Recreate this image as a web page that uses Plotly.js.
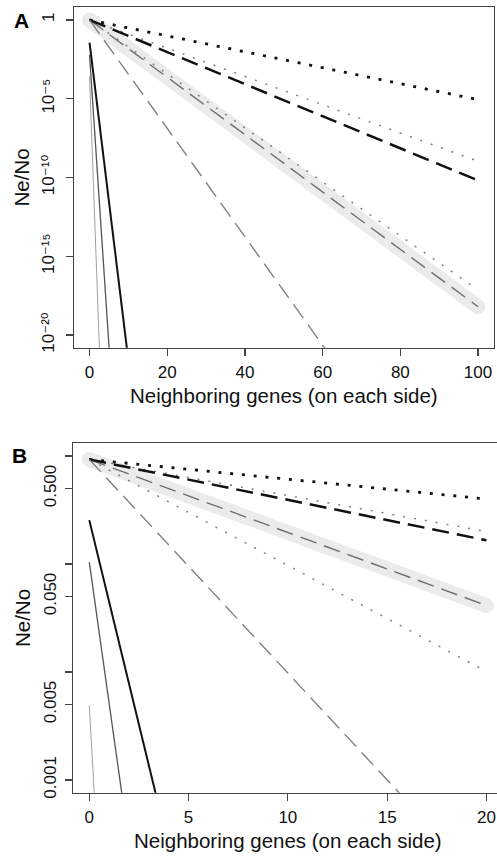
<!DOCTYPE html>
<html>
<head>
<meta charset="utf-8">
<script src="https://cdn.plot.ly/plotly-3.0.1.min.js"></script>
<style>
html,body{margin:0;padding:0;overflow:hidden;background:#fff;}
#chart{width:520px;height:857px;}
</style>
</head>
<body>
<div id="chart"></div>
<script>
// ---------- Panel A (0..100 neighboring genes) ----------
const A_x = [0, 100];
const A_blackDotted = [1, 8.7e-6];
const A_grayDotted = [1, 1.07e-9];
const A_blackDashed = [1, 6.5e-11];
const A_grayDotted2 = [1, 7.4e-18];
const A_bandDashed = [1, 6.3e-19];
const A_steepX = [0, 62];
const A_steepDashed = [1, 4.7e-22];
const A_blackSolidX = [0, 10];
const A_blackSolid = [0.036, 2.4e-22];
const A_graySolidX = [0, 5.5];
const A_graySolid = [6.1e-3, 3.0e-23];
const A_lightSolidX = [0, 2.8];
const A_lightSolid = [2.6e-4, 2.3e-23];

// ---------- Panel B (0..20 neighboring genes) ----------
const B_x = [0, 20];
const B_blackDotted = [0.93, 0.40];
const B_grayDotted = [0.93, 0.20];
const B_blackDashed = [0.93, 0.166];
const B_grayDotted2 = [0.93, 0.0101];
const B_bandDashed = [0.93, 0.0413];
const B_steepX = [0, 16];
const B_steepDashed = [0.93, 6.35e-4];
const B_blackSolidX = [0, 3.5];
const B_blackSolid = [0.255, 5.7e-4];
const B_graySolidX = [0, 1.8];
const B_graySolid = [0.104, 4.6e-4];
const B_lightSolidX = [0, 0.3];
const B_lightSolid = [0.0049, 5.2e-4];

// tick labels
const A_xTicks = [0, 20, 40, 60, 80, 100];
const A_yTickVals = [1, 1e-5, 1e-10, 1e-15, 1e-20];
const A_yTickText = ['1', '10\u207B\u2075', '10\u207B\u00B9\u2070', '10\u207B\u00B9\u2075', '10\u207B\u00B2\u2070'];
const B_xTicks = [0, 5, 10, 15, 20];
const B_yTickVals = [0.001, 0.005, 0.05, 0.5];
const B_yTickText = ['0.001', '0.005', '0.050', '0.500'];
const B_yUnlabeledTicks = [0.01, 0.1, 1];

const GRAY = '#808080';
const styles = {
  band: {color: '#ebebeb', width: 15},
  bandDash: {color: '#6e6e6e', width: 1.4, dash: '17px,8px'},
  blackDotted: {color: '#111', width: 2.8, dash: '3px,8.8px'},
  grayDotted: {color: GRAY, width: 1.5, dash: '2px,9px'},
  blackDashed: {color: '#111', width: 2.5, dash: '17px,8px'},
  steep: {color: GRAY, width: 1.4, dash: '17px,8px'},
  blackSolid: {color: '#111', width: 2},
  graySolid: {color: '#555', width: 1.3},
  lightSolid: {color: '#a0a0a0', width: 1}
};

function tr(x, y, line, xa, ya, extra) {
  return Object.assign({type: 'scatter', mode: 'lines', x: x, y: y, line: line,
    xaxis: xa, yaxis: ya, hoverinfo: 'skip', showlegend: false}, extra || {});
}

function panelTraces(P, xa, ya) {
  return [
    tr(P.x, P.band, styles.band, xa, ya, {mode: 'lines+markers', marker: {color: '#ebebeb', size: 15}, cliponaxis: false}),
    tr(P.x, P.band, styles.bandDash, xa, ya),
    tr(P.x, P.grayDotted2, styles.grayDotted, xa, ya),
    tr(P.x, P.grayDotted, styles.grayDotted, xa, ya),
    tr(P.x, P.blackDashed, styles.blackDashed, xa, ya),
    tr(P.x, P.blackDotted, styles.blackDotted, xa, ya),
    tr(P.steepX, P.steep, styles.steep, xa, ya),
    tr(P.lightX, P.light, styles.lightSolid, xa, ya),
    tr(P.grayX, P.gray, styles.graySolid, xa, ya),
    tr(P.blackX, P.black, styles.blackSolid, xa, ya)
  ];
}

const traces = [].concat(
  panelTraces({x: A_x, band: A_bandDashed, grayDotted2: A_grayDotted2, grayDotted: A_grayDotted,
    blackDashed: A_blackDashed, blackDotted: A_blackDotted, steepX: A_steepX, steep: A_steepDashed,
    lightX: A_lightSolidX, light: A_lightSolid, grayX: A_graySolidX, gray: A_graySolid,
    blackX: A_blackSolidX, black: A_blackSolid}, 'x', 'y'),
  panelTraces({x: B_x, band: B_bandDashed, grayDotted2: B_grayDotted2, grayDotted: B_grayDotted,
    blackDashed: B_blackDashed, blackDotted: B_blackDotted, steepX: B_steepX, steep: B_steepDashed,
    lightX: B_lightSolidX, light: B_lightSolid, grayX: B_graySolidX, gray: B_graySolid,
    blackX: B_blackSolidX, black: B_blackSolid}, 'x2', 'y2')
);

const W = 520, H = 857;
const FONT = 'Liberation Sans, Arial, Helvetica, DejaVu Sans, sans-serif';
const axisBase = {
  showgrid: false, zeroline: false, showline: true, mirror: true,
  linecolor: '#444', linewidth: 1.2,
  ticks: 'outside', ticklen: 7, tickwidth: 1.2, tickcolor: '#444',
  tickfont: {family: FONT, size: 17, color: '#111'},
  fixedrange: true
};
const titleFont = {family: FONT, size: 20.5, color: '#111'};

const layout = {
  width: W, height: H,
  margin: {l: 0, r: 0, t: 0, b: 0},
  paper_bgcolor: '#fff', plot_bgcolor: '#fff',
  font: {family: FONT, color: '#111'},
  showlegend: false,
  xaxis: Object.assign({}, axisBase, {
    domain: [74 / W, 493.6 / W], range: [-4, 104], anchor: 'y',
    tickvals: A_xTicks, ticktext: A_xTicks.map(String), ticklabelstandoff: 2,
    title: {text: 'Neighboring genes (on each side)', font: titleFont, standoff: 7}
  }),
  yaxis: Object.assign({}, axisBase, {
    type: 'log', domain: [(H - 347.7) / H, (H - 7.3) / H], range: [-20.8, 0.8], anchor: 'x',
    tickvals: A_yTickVals, ticktext: A_yTickText, tickangle: -90, ticklabelstandoff: 5,
    title: {text: 'Ne/No', font: titleFont, standoff: 3}
  }),
  xaxis2: Object.assign({}, axisBase, {
    domain: [73.4 / W, 502.3 / W], range: [-0.8, 20.8], anchor: 'y2',
    tickvals: B_xTicks, ticktext: B_xTicks.map(String), ticklabelstandoff: 2,
    title: {text: 'Neighboring genes (on each side)', font: titleFont, standoff: 7}
  }),
  yaxis2: Object.assign({}, axisBase, {
    type: 'log', domain: [(H - 792.7) / H, (H - 443.3) / H], range: [-3.118, 0.118], anchor: 'x2',
    mirror: false,
    tickvals: B_yTickVals, ticktext: B_yTickText, tickangle: -90, ticklabelstandoff: 2,
    minor: {tickvals: B_yUnlabeledTicks, ticks: 'outside', ticklen: 7, tickwidth: 1.2, tickcolor: '#444', showgrid: false},
    title: {text: 'Ne/No', font: titleFont, standoff: 5}
  }),
  annotations: [
    {text: '<b>A</b>', xref: 'paper', yref: 'paper', x: 21 / W, y: (H - 20) / H,
      xanchor: 'center', yanchor: 'middle', showarrow: false, font: {family: FONT, size: 21, color: '#000'}},
    {text: '<b>B</b>', xref: 'paper', yref: 'paper', x: 19.5 / W, y: (H - 455.3) / H,
      xanchor: 'center', yanchor: 'middle', showarrow: false, font: {family: FONT, size: 21, color: '#000'}}
  ]
};

Plotly.newPlot('chart', traces, layout, {displayModeBar: false, staticPlot: true});
</script>
</body>
</html>
